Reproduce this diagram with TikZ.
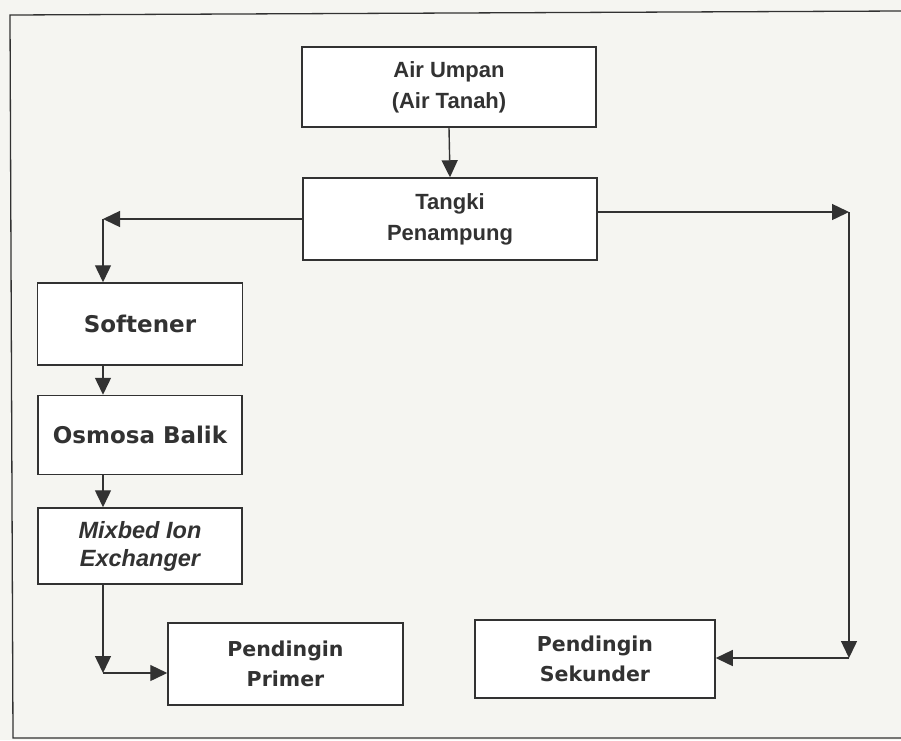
\documentclass[tikz,border=0pt]{standalone}
\usepackage{fontspec}
\setmainfont{Liberation Sans}
\newfontfamily\widefont{DejaVu Sans}
\usetikzlibrary{arrows.meta}
\definecolor{ink}{RGB}{50,50,50}
\definecolor{paper}{RGB}{245,245,241}
\tikzset{
  box/.style={draw=ink, line width=1.5pt, fill=white, text=ink, align=center, inner sep=0pt, anchor=center},
  topfont/.style={font=\fontsize{22}{31}\selectfont\bfseries},
  widef/.style={font=\widefont\fontsize{20.5}{30}\selectfont\bfseries},
  widebig/.style={font=\widefont\fontsize{23}{30}\selectfont\bfseries},
  itf/.style={font=\fontsize{23.5}{28}\selectfont\bfseries\itshape},
  conn/.style={draw=ink, line width=1.4pt},
  arr/.style={conn, -{Triangle[length=17pt,width=16pt]}},
  frame/.style={draw=ink, line width=1.3pt}
}
\begin{document}
\begin{tikzpicture}[x=1pt,y=-1pt]
\useasboundingbox (0,0) rectangle (901,740);
\fill[paper] (0,0) rectangle (901,740);
\draw[frame] (901,11) -- (10,15) -- (13,738) -- (901,738);

\node[box, topfont, minimum width=294pt, minimum height=80pt] (air) at (449,87) {Air Umpan\\(Air Tanah)};
\node[box, topfont, minimum width=294pt, minimum height=82pt] (tank) at (450,219) {Tangki\\Penampung};
\node[box, widebig, minimum width=205pt, minimum height=82pt] (soft) at (140,324) {Softener};
\node[box, widebig, minimum width=204pt, minimum height=79pt] (osm) at (140,435) {Osmosa Balik};
\node[box, itf, minimum width=204pt, minimum height=76pt] (mix) at (140,546) {Mixbed Ion\\Exchanger};
\node[box, widef, minimum width=235pt, minimum height=82pt] (prim) at (285.5,664) {Pendingin\\Primer};
\node[box, widef, minimum width=240pt, minimum height=78pt] (sek) at (595,659) {Pendingin\\Sekunder};

\coordinate (cL) at (103,219);
\coordinate (cR) at (849,212);
\coordinate (cRb) at (849,658);
\coordinate (cB) at (103,673);
\coordinate (vx) at (103,0);

\draw[arr] (air.south) -- (tank.north);
\draw[arr] (tank.west) -- (cL);
\draw[arr] (cL) -- (soft.north -| cL);
\draw[arr] (soft.south -| vx) -- (osm.north -| vx);
\draw[arr] (osm.south -| vx) -- (mix.north -| vx);
\draw[arr] (mix.south -| vx) -- (cB);
\draw[arr] (cB) -- (prim.west |- cB);
\draw[arr] (tank.east |- cR) -- (cR);
\draw[arr] (cR) -- (cRb);
\draw[arr] (cRb) -- (sek.east |- cRb);
\end{tikzpicture}
\end{document}
